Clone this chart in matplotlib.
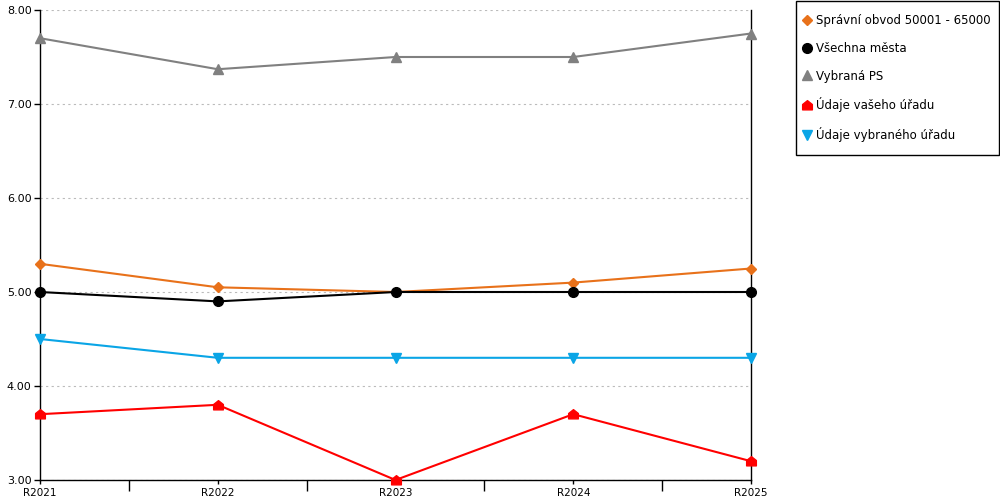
import numpy as np
import matplotlib.pyplot as plt
from matplotlib.path import Path
from matplotlib.lines import Line2D
from matplotlib.patches import Rectangle

years = ["R2021", "R2022", "R2023", "R2024", "R2025"]
obvod = [5.30, 5.05, 5.00, 5.10, 5.25]
mesta = [5.00, 4.90, 5.00, 5.00, 5.00]
vybrana_ps = [7.70, 7.37, 7.50, 7.50, 7.75]
vas_urad = [3.70, 3.80, 3.00, 3.70, 3.20]
vybrany_urad = [4.50, 4.30, 4.30, 4.30, 4.30]

house = Path([(-1, -0.9), (1, -0.9), (1, 0.2), (0, 1), (-1, 0.2), (-1, -0.9)],
             [Path.MOVETO, Path.LINETO, Path.LINETO, Path.LINETO, Path.LINETO, Path.CLOSEPOLY])

series = [
    ("Správní obvod 50001 - 65000", obvod, "#e8711a", "D", 5),
    ("Všechna města", mesta, "#000000", "o", 7),
    ("Vybraná PS", vybrana_ps, "#808080", "^", 7),
    ("Údaje vašeho úřadu", vas_urad, "#ff0000", house, 7),
    ("Údaje vybraného úřadu", vybrany_urad, "#0aa5e6", "v", 7),
]

fig = plt.figure(figsize=(10, 5), dpi=100)
ax = fig.add_axes([0.04, 0.04, 0.711, 0.94])
x = np.arange(len(years))

handles = []
for name, vals, col, mk, ms in series:
    ax.plot(x, vals, color=col, lw=1.5, marker=mk, markersize=ms, clip_on=False, zorder=3)
    handles.append(Line2D([], [], color=col, marker=mk, markersize=ms, linestyle="none", label=name))

ax.set_xlim(0, 4)
ax.set_ylim(3, 8)
ax.set_xticks(x)
ax.set_xticklabels(years, fontsize=7.5)
ax.set_xticks(x[:-1] + 0.5, minor=True)
ax.set_yticks(np.arange(3, 8.01, 1))
ax.set_yticklabels([f"{v:.2f}" for v in np.arange(3, 8.01, 1)], fontsize=8)
ax.tick_params(axis="x", which="major", direction="out", length=3, width=1, pad=3)
ax.tick_params(axis="x", which="minor", direction="out", length=8, width=1)
ax.tick_params(axis="y", length=4, width=1, pad=2)
ax.grid(axis="y", color="#bbbbbb", linestyle=(0, (2, 3)), lw=0.8)
ax.spines["top"].set_visible(False)
for s in ["left", "right", "bottom"]:
    ax.spines[s].set_color("black")
    ax.spines[s].set_linewidth(1)

# legend box drawn separately so its height matches
fig.patches.append(Rectangle((0.796, 0.69), 0.203, 0.308, transform=fig.transFigure,
                             fill=False, edgecolor="black", lw=1))
leg = fig.legend(handles=handles, loc="upper left", bbox_to_anchor=(0.796, 0.986),
                 fontsize=8.5, frameon=False,
                 handlelength=0.6, handletextpad=0.5, labelspacing=1.25,
                 borderpad=0.6, borderaxespad=0)

fig.savefig("out.png", dpi=100)
